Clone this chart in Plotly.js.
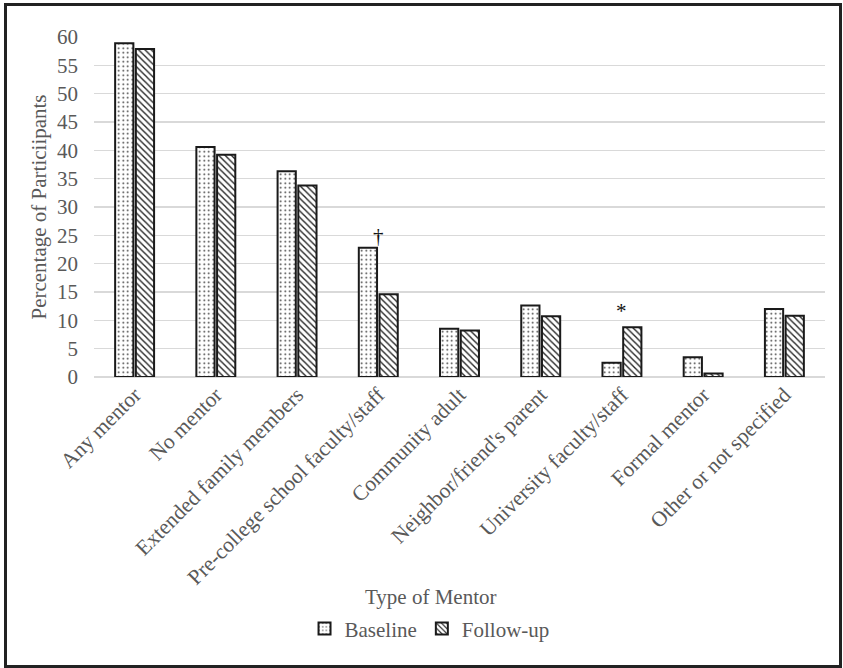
<!DOCTYPE html>
<html>
<head>
<meta charset="utf-8">
<script src="https://cdn.plot.ly/plotly-3.0.1.min.js"></script>
<style>
  html, body { margin: 0; padding: 0; background: #fff; overflow: hidden; }
  #wrap { position: relative; width: 843px; height: 668px; overflow: hidden; }
  #chart { position: absolute; left: 0; top: 0; width: 843px; height: 668px; }
  #frame { position: absolute; left: 4px; top: 3px; width: 832px; height: 659px;
           border: 3px solid #222; pointer-events: none; }
</style>
</head>
<body>
<div id="wrap"><div id="chart"></div><div id="frame"></div></div>
<script>
const categories = ["Any mentor", "No mentor", "Extended family members",
  "Pre-college school faculty/staff", "Community adult", "Neighbor/friend's parent",
  "University faculty/staff", "Formal mentor", "Other or not specified"];
const baseline = [58.9, 40.6, 36.3, 22.8, 8.5, 12.6, 2.5, 3.5, 12.0];
const followUp = [57.9, 39.2, 33.8, 14.6, 8.2, 10.7, 8.8, 0.6, 10.8];
const yTicks = [0, 5, 10, 15, 20, 25, 30, 35, 40, 45, 50, 55, 60];
const marks = [
  {category: "Pre-college school faculty/staff", value: 24.8, text: "†"},
  {category: "University faculty/staff", value: 11.6, text: "*"}
];

const FONT = "Liberation Serif, Times New Roman, serif";
const GRAY = "#595959";

const traces = [
  {
    type: "bar", name: "Baseline", x: categories, y: baseline,
    marker: {color: "#ffffff", line: {color: "#1a1a1a", width: 2},
      pattern: {shape: ".", fgcolor: "#333333", bgcolor: "#ffffff", size: 4.5, solidity: 0.12}},
    hoverinfo: "skip"
  },
  {
    type: "bar", name: "Follow-up", x: categories, y: followUp,
    marker: {color: "#ffffff", line: {color: "#1a1a1a", width: 2},
      pattern: {shape: "\\", fgcolor: "#222222", bgcolor: "#ffffff", size: 4.5, solidity: 0.3}},
    hoverinfo: "skip"
  }
];

const annotations = marks.map(m => ({
  x: m.category, y: m.value, xref: "x", yref: "y", text: m.text, showarrow: false,
  font: {family: FONT, size: 21, color: "#111"}
}));
annotations.push({
  xref: "paper", yref: "paper", x: 0.461, y: -0.646, xanchor: "center", yanchor: "middle",
  text: "Type of Mentor", showarrow: false, font: {family: FONT, size: 21, color: GRAY}
});

const layout = {
  width: 843, height: 668,
  margin: {l: 94, r: 18, t: 37, b: 291},
  paper_bgcolor: "#ffffff", plot_bgcolor: "#ffffff",
  barmode: "group", bargap: 0.49, bargroupgap: 0.12,
  font: {family: FONT, color: GRAY},
  showlegend: true,
  legend: {orientation: "h", x: 0.459, y: -0.741, xanchor: "center", yanchor: "middle",
    font: {family: FONT, size: 21, color: GRAY}, itemwidth: 30, traceorder: "normal"},
  xaxis: {
    type: "category", tickangle: -45, showgrid: false, showline: false, zeroline: false,
    ticks: "", tickfont: {family: FONT, size: 21.5, color: GRAY}, automargin: false
  },
  yaxis: {
    range: [0, 60], tickvals: yTicks, ticktext: yTicks.map(String),
    showgrid: true, gridcolor: "#d9d9d9", gridwidth: 1.5,
    zeroline: true, zerolinecolor: "#d9d9d9", zerolinewidth: 1.5,
    showline: false, ticks: "", ticklabelstandoff: 15,
    tickfont: {family: FONT, size: 21, color: GRAY}, automargin: false,
    title: {text: "Percentage of Particiipants", standoff: 4,
      font: {family: FONT, size: 21, color: GRAY}}
  },
  annotations: annotations
};

Plotly.newPlot("chart", traces, layout, {staticPlot: true, displayModeBar: false});
</script>
</body>
</html>
